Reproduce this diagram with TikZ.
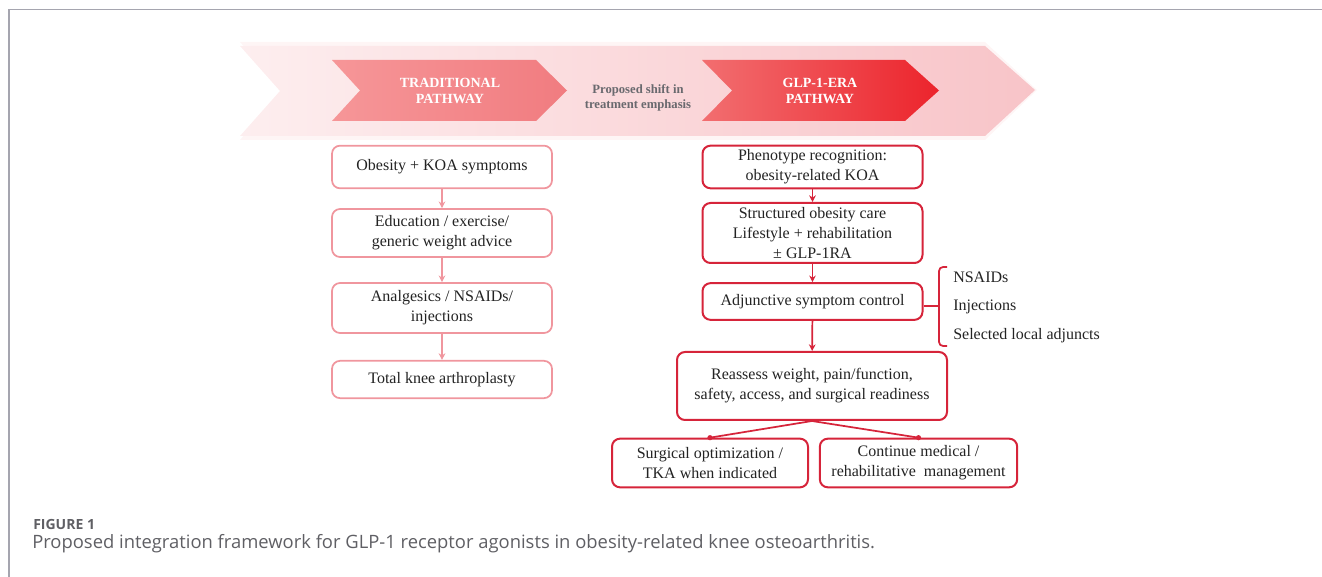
\documentclass[tikz,border=0pt]{standalone}
\usepackage{fontspec}
\setmainfont{Liberation Serif}
\newfontfamily\capfont{Open Sans}
\usetikzlibrary{arrows.meta}
\definecolor{framegray}{RGB}{165,165,175}
\definecolor{lpink}{RGB}{240,150,158}
\definecolor{dred}{RGB}{214,36,58}
\definecolor{bannerL}{RGB}{253,238,239}
\definecolor{bannerR}{RGB}{248,196,200}
\definecolor{chevAL}{RGB}{246,150,152}
\definecolor{chevAR}{RGB}{241,124,128}
\definecolor{chevBL}{RGB}{242,110,112}
\definecolor{chevBR}{RGB}{236,36,44}
\definecolor{shiftgray}{RGB}{105,105,110}
\definecolor{txt}{RGB}{35,35,35}
\definecolor{capgray}{RGB}{95,95,100}
\tikzset{
  lbox/.style={draw=lpink, line width=1.3pt, rounded corners=6pt, fill=white,
    minimum width=165pt, align=center, font=\fontsize{12}{15}\selectfont, text=txt, inner sep=0pt},
  rbox/.style={draw=dred, line width=1.5pt, rounded corners=6pt, fill=white,
    align=center, font=\fontsize{12}{15}\selectfont, text=txt, inner sep=0pt},
  larrow/.style={draw=lpink, line width=1.1pt, -{Stealth[length=5pt,width=5pt]}},
  rarrow/.style={draw=dred, line width=1.3pt, -{Stealth[length=5pt,width=5pt]}},
  rline/.style={draw=dred, line width=1.3pt},
  chevtext/.style={text=white, font=\bfseries\fontsize{10.5}{12}\selectfont, align=center},
  listtext/.style={anchor=west, text=txt, font=\fontsize{12}{15}\selectfont, inner sep=0pt},
}
\begin{document}
\begin{tikzpicture}[x=0.75pt,y=-0.75pt]
\useasboundingbox (0,0) rectangle (1322,577);
% frame
\draw[framegray, line width=1.1pt] (9,577) -- (9,9.5) -- (1322,9.5);
% banner shadow and banner
\fill[bannerL, opacity=0.6] (290,42) -- (985,42) -- (1037,90) -- (985,140) -- (240,140) -- (282,90) -- (240,42) -- cycle;
\shade[left color=bannerL, right color=bannerR] (240,46) -- (985,46) -- (1035,90) -- (985,136) -- (240,136) -- (280,91) -- cycle;
% chevrons
\shade[left color=chevAL, right color=chevAR] (332,60) -- (536,60) -- (567,90.5) -- (536,121) -- (332,121) -- (360,90.5) -- cycle;
\shade[left color=chevBL, right color=chevBR] (702,60) -- (905,60) -- (939,90.5) -- (905,121) -- (702,121) -- (732,90.5) -- cycle;
\node[chevtext] (trad) at (450,90.5) {TRADITIONAL\\PATHWAY};
\node[chevtext] (glp) at (820,90.5) {GLP-1-ERA\\PATHWAY};
\node[text=shiftgray, font=\bfseries\fontsize{9.5}{11.5}\selectfont, align=center] (shift) at (638,98) {Proposed shift in\\treatment emphasis};
% left column
\node[lbox, minimum height=32pt] (l1) at (442,167) {Obesity + KOA symptoms};
\node[lbox, minimum height=36pt] (l2) at (442,233) {Education / exercise/\\generic weight advice};
\node[lbox, minimum height=37.5pt] (l3) at (442,308) {Analgesics / NSAIDs/\\injections};
\node[lbox, minimum height=28pt] (l4) at (442,379.5) {Total knee arthroplasty};
\draw[larrow] (l1) -- (l2);
\draw[larrow] (l2) -- (l3);
\draw[larrow] (l3) -- (l4);
% right column
\node[rbox, minimum width=165pt, minimum height=32pt] (r1) at (812.5,167) {Phenotype recognition:\\obesity-related KOA};
\node[rbox, minimum width=165pt, minimum height=45pt] (r2) at (812.5,233) {Structured obesity care\\Lifestyle + rehabilitation\\± GLP-1RA};
\node[rbox, minimum width=165pt, minimum height=27.5pt] (r3) at (812.5,301.5) {Adjunctive symptom control};
\node[rbox, minimum width=202.5pt, minimum height=51pt] (r4) at (812,386) {Reassess weight, pain/function,\\safety, access, and surgical readiness};
\node[rbox, minimum width=147pt, minimum height=36.5pt] (r5) at (710,463) {Surgical optimization /\\TKA when indicated};
\node[rbox, minimum width=148pt, minimum height=36.5pt] (r6) at (918.5,463) {Continue medical /\\rehabilitative\ \ management};
\draw[rarrow] (r1) -- (r2);
\draw[rarrow] (r2) -- (r3);
\draw[rarrow] (r3) -- (r4);
\draw[rline] (r4.south) -- (r5.north);
\draw[rline] (r4.south) -- (r6.north);
\fill[dred] (r5.north) circle (2.6);
\fill[dred] (r6.north) circle (2.6);
% bracket
\coordinate (bj) at (939,306);
\draw[rline] (r3.east |- bj) -- (bj);
\draw[rline, rounded corners=3pt] (947,267) -- (939,267) -- (939,346) -- (947,346);
\node[listtext] (n1) at (953,277) {NSAIDs};
\node[listtext] (n2) at (953,307) {Injections};
\node[listtext] (n3) at (953,336) {Selected local adjuncts};
% caption
\node[anchor=west, text=capgray, font=\capfont\bfseries\fontsize{10.5}{12}\selectfont, inner sep=0pt] (fig) at (33,524) {FIGURE 1};
\node[anchor=west, text=capgray, font=\capfont\fontsize{13.8}{16}\selectfont, inner sep=0pt] (cap) at (32,544) {Proposed integration framework for GLP-1 receptor agonists in obesity-related knee osteoarthritis.};
\end{tikzpicture}
\end{document}
